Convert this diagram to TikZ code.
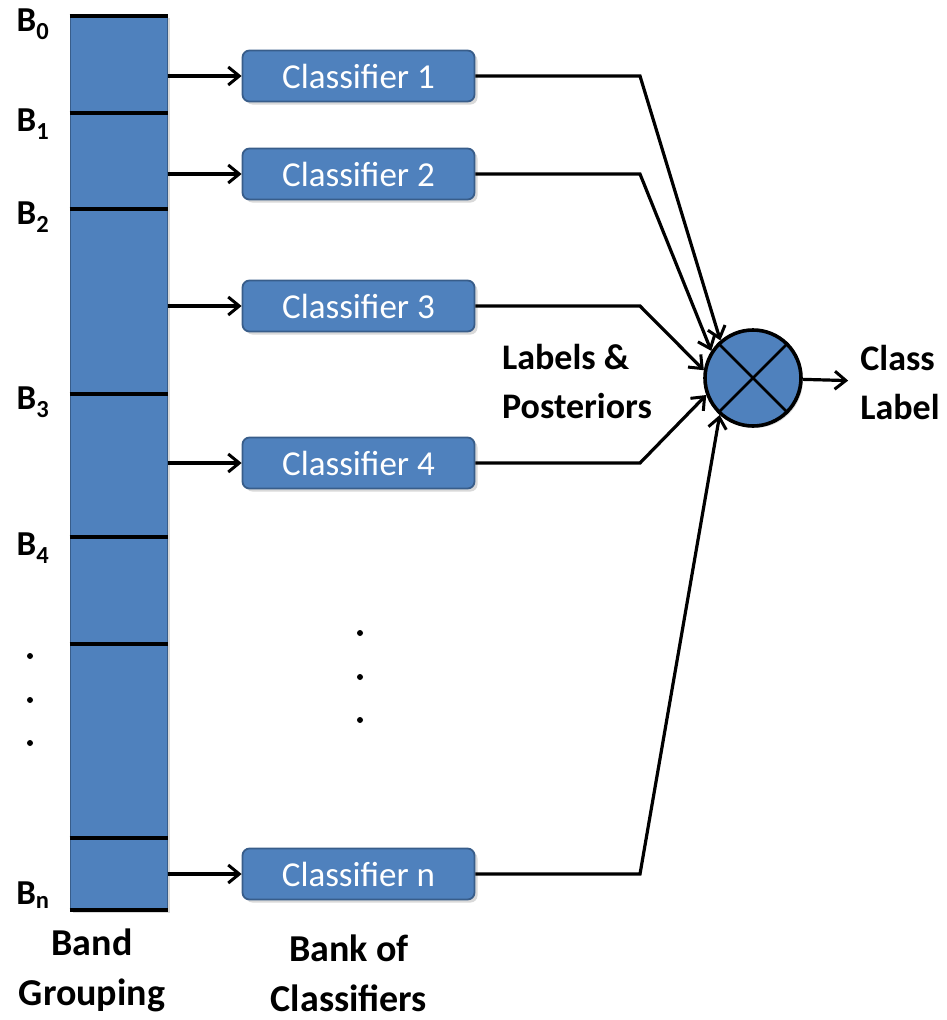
\documentclass[tikz,border=0pt]{standalone}
\usepackage{fontspec}
\setmainfont{Carlito}
\usetikzlibrary{positioning,shadows,arrows.meta}
\definecolor{bandblue}{HTML}{4F81BD}
\definecolor{bandedge}{HTML}{385D8A}

\begin{document}
\begin{tikzpicture}[x=1pt, y=-1pt,
    >={Straight Barb[length=11pt,width=18pt,line width=3pt]},
    conn/.style={line width=3.2pt},
    classifier/.style={rectangle, rounded corners=7pt, draw=bandedge, line width=1.8pt,
      fill=bandblue, text=white, minimum width=232pt, minimum height=51pt,
      font=\fontsize{35}{40}\selectfont,
      drop shadow={shadow xshift=3pt, shadow yshift=-3pt, opacity=0.3}},
    lbl/.style={font=\fontsize{36}{49}\selectfont\bfseries, inner sep=2pt},
    bandlbl/.style={font=\fontsize{35}{40}\selectfont\bfseries, inner sep=0pt}]

    \useasboundingbox (0,0) rectangle (947,1020);

    % Band grouping
    \node[rectangle, fill=bandblue, draw=bandedge, line width=1pt, minimum width=97pt,
      minimum height=895pt, drop shadow={shadow xshift=3pt, shadow yshift=-3pt, opacity=0.3}]
      (bar) at (118.5,462.5) {};
    \foreach \y in {16,113,209,394,537,644,838,910}
      \draw[line width=4.5pt] (bar.west |- 0,\y) -- (bar.east |- 0,\y);

    \node[bandlbl] (b0) at (33,24) {B\textsubscript{0}};
    \node[bandlbl] (b1) at (33,124) {B\textsubscript{1}};
    \node[bandlbl] (b2) at (33,217) {B\textsubscript{2}};
    \node[bandlbl] (b3) at (33,402) {B\textsubscript{3}};
    \node[bandlbl] (b4) at (33,548) {B\textsubscript{4}};
    \node[bandlbl] (bn) at (33,895) {B\textsubscript{n}};
    \foreach \y in {656,700,743}
      \fill (30,\y) circle (3pt);

    % Classifiers
    \node[classifier] (c1) at (358.5,76) {Classifier 1};
    \node[classifier] (c2) at (358.5,174) {Classifier 2};
    \node[classifier] (c3) at (358.5,306) {Classifier 3};
    \node[classifier] (c4) at (358.5,463) {Classifier 4};
    \node[classifier] (cn) at (358.5,874) {Classifier n};
    \foreach \y in {633,677,720}
      \fill (360,\y) circle (3pt);

    % Combiner
    \node[circle, draw, line width=3.6pt, fill=bandblue, minimum size=96pt,
      drop shadow={shadow xshift=2pt, shadow yshift=-2pt, opacity=0.3}] (comb) at (753,378) {};
    \draw[line width=2.6pt] (comb.45) -- (comb.225);
    \draw[line width=2.6pt] (comb.135) -- (comb.315);
    \coordinate (jct) at (640,0);

    % Text labels
    \node[lbl, align=left] (post) at (577,381) {Labels \&\\Posteriors};
    \node[lbl, align=left] (out) at (900,382) {Class\\Label};
    \node[lbl, align=center, font=\fontsize{38}{50}\selectfont\bfseries] (grp) at (92,970) {Band\\Grouping};
    \node[lbl, align=center, font=\fontsize{38}{50}\selectfont\bfseries] (bank) at (349,973) {Bank of\\Classifiers};

    % Arrows into the classifiers
    \foreach \c in {c1,c2,c3,c4,cn}
      \draw[conn, ->] (bar.east |- \c.west) -- (\c.west);

    % Arrows into the combiner
    \draw[conn, ->] (c1.east) -- (jct |- c1.east) -- (comb.131);
    \draw[conn, ->] (c2.east) -- (jct |- c2.east) -- (comb.147);
    \draw[conn, ->] (c3.east) -- (jct |- c3.east) -- (comb.171);
    \draw[conn, ->] (c4.east) -- (jct |- c4.east) -- (comb.200);
    \draw[conn, ->] (cn.east) -- (jct |- cn.east) -- (comb.228);
    \draw[conn, ->, shorten >=10pt] (comb) -- (out);

\end{tikzpicture}
\end{document}
